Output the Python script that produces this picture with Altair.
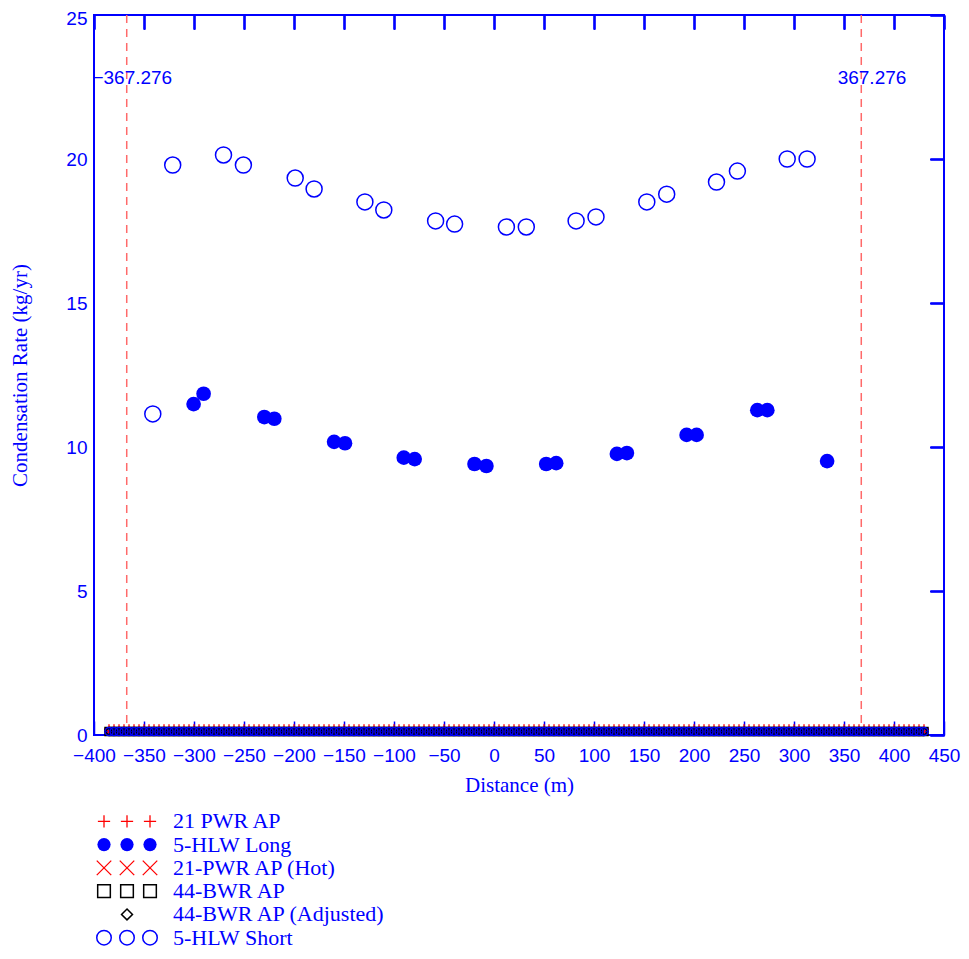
import altair as alt
import pandas as pd

BLUE = "#0000ff"
RED = "#ff0000"
SANS = "Liberation Sans, Arial"
SERIF = "Liberation Serif, Times New Roman"

# ---------------- data ----------------
x_ticks = [-400, -350, -300, -250, -200, -150, -100, -50, 0, 50, 100, 150,
           200, 250, 300, 350, 400, 450]
y_ticks = [0, 5, 10, 15, 20, 25]
y_label_upper = [5, 10, 15, 20, 25]
y_label_zero = [0]

# 5-HLW Short (open circles)
short_x = [-341.2, -321.3, -270.5, -250.6, -198.8, -179.9, -129.1, -110.2,
           -58.4, -39.4, 12.4, 32.3, 82.1, 102.0, 152.8, 172.7, 222.5,
           243.4, 293.2, 313.1]
short_y = [11.15, 19.79, 20.14, 19.79, 19.34, 18.96, 18.51, 18.23, 17.85,
           17.74, 17.64, 17.64, 17.85, 17.99, 18.51, 18.78, 19.20, 19.58,
           20.00, 20.00]

# 5-HLW Long (filled circles)
long_x = [-300.4, -290.4, -229.7, -219.7, -159.9, -149.0, -90.2, -79.3,
          -19.5, -7.6, 52.2, 62.2, 122.9, 132.9, 192.6, 202.6, 263.3, 273.3,
          333.1]
long_y = [11.49, 11.85, 11.04, 10.98, 10.18, 10.13, 9.63, 9.58, 9.41, 9.34,
          9.41, 9.44, 9.76, 9.79, 10.42, 10.42, 11.28, 11.28, 9.51]

# vertical limit lines and their labels
limit_x = [-367.276, 367.276]
limit_label_x = [-361.7, 378.0]
limit_label_y = [22.8, 22.8]
limit_labels = ["\u2212367.276", "367.276"]

# dense row of near-zero results along the ground
grid_x = [-385, -380, -375, -370, -365, -360, -355, -350, -345, -340, -335,
          -330, -325, -320, -315, -310, -305, -300, -295, -290, -285, -280,
          -275, -270, -265, -260, -255, -250, -245, -240, -235, -230, -225,
          -220, -215, -210, -205, -200, -195, -190, -185, -180, -175, -170,
          -165, -160, -155, -150, -145, -140, -135, -130, -125, -120, -115,
          -110, -105, -100, -95, -90, -85, -80, -75, -70, -65, -60, -55, -50,
          -45, -40, -35, -30, -25, -20, -15, -10, -5, 0, 5, 10, 15, 20, 25,
          30, 35, 40, 45, 50, 55, 60, 65, 70, 75, 80, 85, 90, 95, 100, 105,
          110, 115, 120, 125, 130, 135, 140, 145, 150, 155, 160, 165, 170,
          175, 180, 185, 190, 195, 200, 205, 210, 215, 220, 225, 230, 235,
          240, 245, 250, 255, 260, 265, 270, 275, 280, 285, 290, 295, 300,
          305, 310, 315, 320, 325, 330, 335, 340, 345, 350, 355, 360, 365,
          370, 375, 380, 385, 390, 395, 400, 405, 410, 415, 420, 425, 430]

series_names = ["21 PWR AP", "5-HLW Long", "21-PWR AP (Hot)", "44-BWR AP",
                "44-BWR AP (Adjusted)", "5-HLW Short"]
near_zero_level = [0.20, 0.13, 0.11, 0.12, 0.12, 0.12]
legend_slots = [[1, 2, 3], [1, 2, 3], [1, 2, 3], [1, 2, 3], [2], [1, 2, 3]]
legend_text_slot = [4, 4, 4, 4, 4, 4]

# ---------------- styles ----------------
PLUS = "M-1,0L1,0M0,-1L0,1"
XMARK = "M-1,-1L1,1M-1,1L1,-1"
style = {
    "21 PWR AP": dict(shape=PLUS, color=RED, filled=False, sw=1.3, band=100, leg=150),
    "5-HLW Long": dict(shape="circle", color=BLUE, filled=True, sw=0, band=64, leg=175),
    "21-PWR AP (Hot)": dict(shape=XMARK, color=RED, filled=False, sw=1.3, band=64, leg=210),
    "44-BWR AP": dict(shape="square", color="#000000", filled=False, sw=1.5, band=64, leg=160),
    "44-BWR AP (Adjusted)": dict(shape="diamond", color="#000000", filled=False, sw=1.5, band=64, leg=120),
    "5-HLW Short": dict(shape="circle", color=BLUE, filled=False, sw=1.5, band=64, leg=210),
}

# ---------------- tables ----------------
short_df = pd.DataFrame({"x": short_x, "y": short_y})
long_df = pd.DataFrame({"x": long_x, "y": long_y})
limit_df = pd.DataFrame({"x": limit_x})
label_df = pd.DataFrame({"x": limit_label_x, "y": limit_label_y, "t": limit_labels})
band_rows = []
for name, lvl in zip(series_names, near_zero_level):
    for gx in grid_x:
        band_rows.append({"series": name, "x": gx, "y": lvl})
band_df = pd.DataFrame(band_rows)
leg_rows = []
for name, slots in zip(series_names, legend_slots):
    for s in slots:
        leg_rows.append({"series": name, "slot": s})
leg_df = pd.DataFrame(leg_rows)
leg_text_df = pd.DataFrame({"series": series_names, "slot": legend_text_slot})

W, H = 850, 720
LFS = 19
xs = alt.Scale(domain=[-400, 450], nice=False, zero=False)
ys = alt.Scale(domain=[0, 25], nice=False, zero=True)

ax_x_main = alt.Axis(orient="bottom", values=x_ticks, ticks=False, domain=False,
                     grid=False, labelFont=SANS, labelFontSize=LFS, labelColor=BLUE,
                     labelPadding=11, labelFlush=False, labelOverlap=False,
                     title="Distance (m)", titleFont=SERIF, titleFontSize=21,
                     titleColor=BLUE, titleFontWeight="normal", titlePadding=9)
ax_y_main = alt.Axis(orient="left", values=y_label_upper, ticks=False, domain=False,
                     grid=False, labelFont=SANS, labelFontSize=LFS, labelColor=BLUE,
                     labelPadding=7, labelFlush=True, labelFlushOffset=6,
                     title="Condensation Rate (kg/yr)", titleFont=SERIF,
                     titleFontSize=21, titleColor=BLUE, titleFontWeight="normal",
                     titlePadding=35)
ax_y_zero = alt.Axis(orient="left", values=y_label_zero, ticks=False, domain=False,
                     grid=False, labelFont=SANS, labelFontSize=LFS, labelColor=BLUE,
                     labelPadding=7, labelFlush=False, title=None)
# inward ticks: axes displaced across the plot
ax_x_bottom_ticks = alt.Axis(orient="top", offset=-H, values=x_ticks, ticks=True,
                             tickSize=14, tickWidth=1.5, tickColor=BLUE, labels=False,
                             domain=False, grid=False, title=None)
ax_x_top_ticks = alt.Axis(orient="bottom", offset=-H, values=x_ticks, ticks=True,
                          tickSize=14, tickWidth=1.5, tickColor=BLUE, labels=False,
                          domain=False, grid=False, title=None)
ax_y_right_ticks = alt.Axis(orient="left", offset=-W, values=y_ticks, ticks=True,
                            tickSize=14, tickWidth=1.5, tickColor=BLUE, labels=False,
                            domain=False, grid=False, title=None)

layers = []

# limit lines (carry the bottom inward ticks)
layers.append(
    alt.Chart(limit_df).mark_rule(color="#ff6a6a", strokeWidth=1.5, strokeDash=[8, 6])
    .encode(x=alt.X("x:Q", scale=xs, axis=ax_x_bottom_ticks))
)

# near-zero band
for name in series_names:
    st = style[name]
    kw = dict(shape=st["shape"], filled=st["filled"], color=st["color"],
              size=st["band"], opacity=1)
    if st["sw"] > 0:
        kw["strokeWidth"] = st["sw"]
    layers.append(
        alt.Chart(band_df).transform_filter(alt.datum.series == name)
        .mark_point(**kw)
        .encode(x=alt.X("x:Q", scale=xs, axis=ax_x_top_ticks),
                y=alt.Y("y:Q", scale=ys, axis=ax_y_right_ticks))
    )

# main series
layers.append(
    alt.Chart(long_df).mark_point(shape="circle", filled=True, color=BLUE,
                                  size=215, opacity=1)
    .encode(x=alt.X("x:Q", scale=xs, axis=ax_x_main),
            y=alt.Y("y:Q", scale=ys, axis=ax_y_main))
)
layers.append(
    alt.Chart(short_df).mark_point(shape="circle", filled=False, color=BLUE,
                                   size=256, strokeWidth=1.5, opacity=1)
    .encode(x=alt.X("x:Q", scale=xs, axis=None),
            y=alt.Y("y:Q", scale=ys, axis=None))
)
layers.append(
    alt.Chart(label_df).mark_text(font=SANS, fontSize=LFS, color=BLUE,
                                  align="center", baseline="middle")
    .encode(x=alt.X("x:Q", scale=xs, axis=None),
            y=alt.Y("y:Q", scale=ys, axis=ax_y_zero),
            text="t:N")
)

main = alt.layer(*layers).resolve_axis(x="independent", y="independent").properties(
    width=W, height=H, view=alt.ViewBackground(stroke=BLUE, strokeWidth=2))

# ---------------- legend ----------------
lx = alt.Scale(domain=[0.565, 14.565], nice=False, zero=False)
ly = alt.Scale(type="point", domain=series_names, padding=0.4)
leg_layers = []
for name in series_names:
    st = style[name]
    kw = dict(shape=st["shape"], filled=st["filled"], color=st["color"],
              size=st["leg"], opacity=1)
    if st["sw"] > 0:
        kw["strokeWidth"] = st["sw"]
    leg_layers.append(
        alt.Chart(leg_df).transform_filter(alt.datum.series == name)
        .mark_point(**kw)
        .encode(x=alt.X("slot:Q", scale=lx, axis=None),
                y=alt.Y("series:N", scale=ly, axis=None))
    )
leg_layers.append(
    alt.Chart(leg_text_df).mark_text(font=SERIF, fontSize=22, color=BLUE,
                                     align="left", baseline="middle")
    .encode(x=alt.X("slot:Q", scale=lx, axis=None),
            y=alt.Y("series:N", scale=ly, axis=None),
            text="series:N")
)
legend = alt.layer(*leg_layers).properties(
    width=322, height=135, view=alt.ViewBackground(stroke="transparent"))

chart = alt.vconcat(main, legend, spacing=13).properties(
    padding={"left": 0, "top": 0, "right": 0, "bottom": 0}
).configure_view(stroke="transparent")

chart.save("out.html", embed_options={"renderer": "svg", "actions": False})
